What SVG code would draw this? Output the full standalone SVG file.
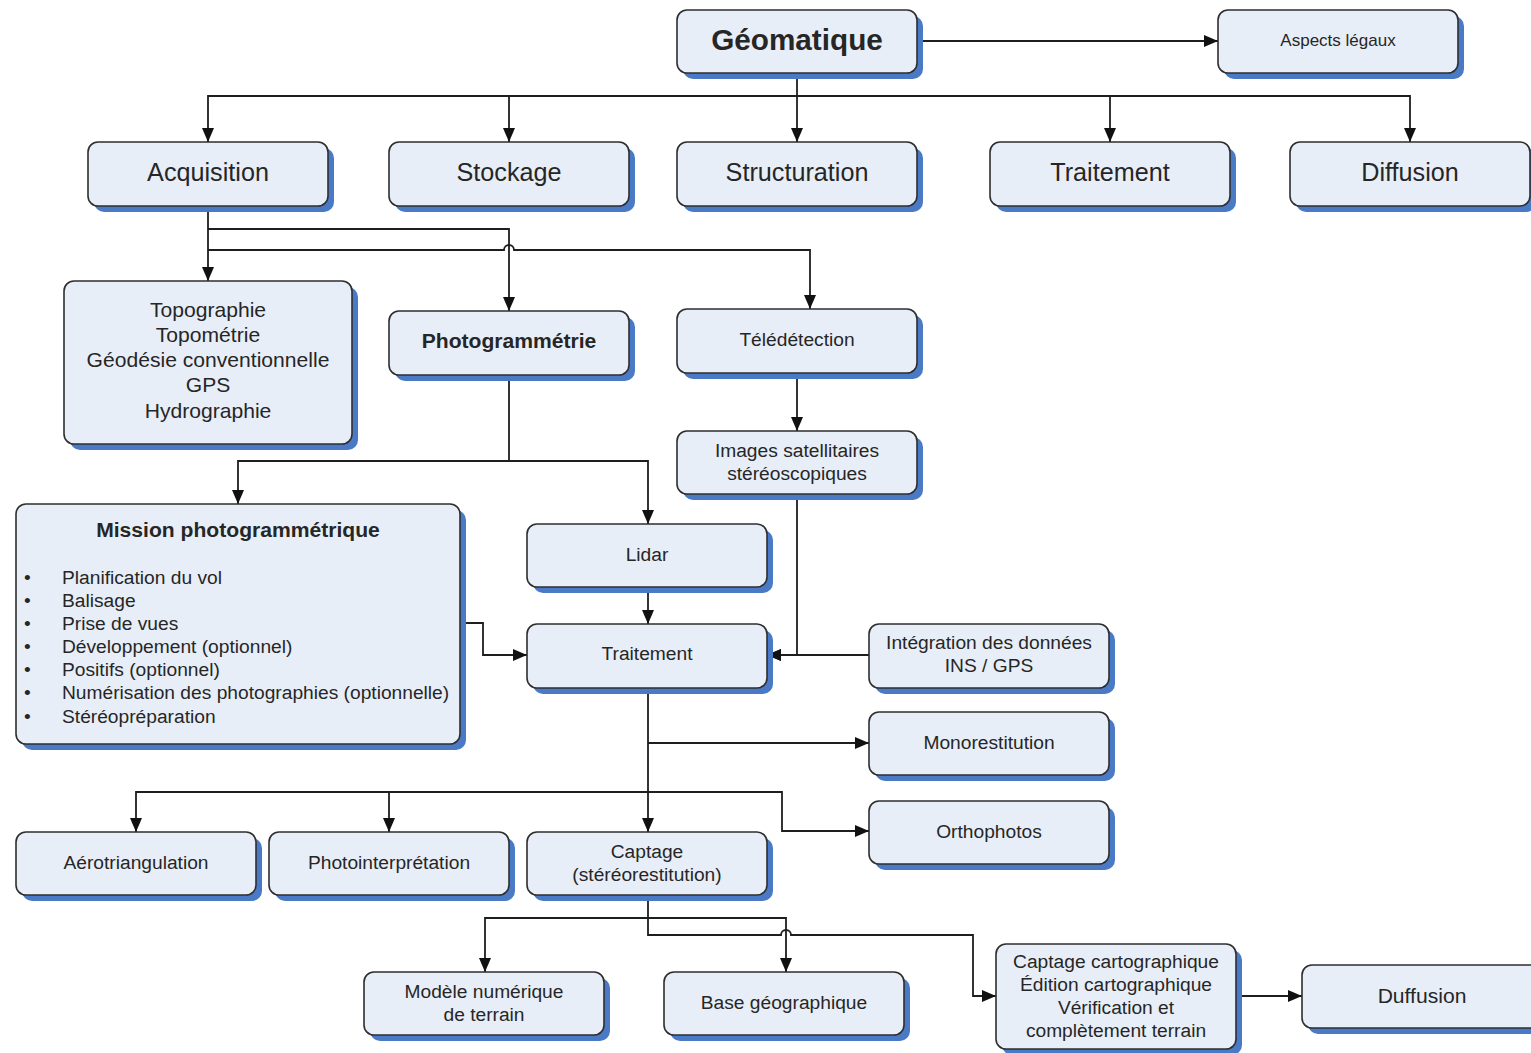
<svg xmlns="http://www.w3.org/2000/svg" width="1531" height="1053" viewBox="0 0 1531 1053">
<style>
.sh{fill:#4a7ac6}
.bx{fill:#e8eef8;stroke:#2e2e2e;stroke-width:1.6}
text{font-family:"Liberation Sans",Arial,sans-serif;fill:#262626;text-anchor:middle}
.t18{font-size:19.2px}
.t19{font-size:21.1px}
.t24{font-size:25.2px}
.b{font-weight:bold}
.l{text-anchor:start}
.c{fill:none;stroke:#1e1e1e;stroke-width:1.8}
.a{marker-end:url(#ar)}
</style>
<defs>
<marker id="ar" markerUnits="userSpaceOnUse" markerWidth="14" markerHeight="14" viewBox="0 0 14 12" refX="14" refY="6" orient="auto">
<path d="M0,0 L14,6 L0,12 z" fill="#111"/>
</marker>
</defs>
<rect width="1531" height="1053" fill="#fff"/>
<g id="connectors">
<path class="c a" d="M917,41 H1218"/>
<path class="c a" d="M797,73 V142"/>
<path class="c a" d="M797,96 H208 V142"/>
<path class="c a" d="M797,96 H1410 V142"/>
<path class="c a" d="M509,96 V142"/>
<path class="c a" d="M1110,96 V142"/>
<path class="c a" d="M208,206 V281"/>
<path class="c a" d="M208,229 H509 V311"/>
<path class="c a" d="M208,250 H504 A5,5 0 0 1 514,250 H810 V309"/>
<path class="c" d="M509,375 V461"/>
<path class="c a" d="M509,461 H238 V504"/>
<path class="c a" d="M509,461 H648 V524"/>
<path class="c a" d="M797,373 V431"/>
<path class="c a" d="M797,494 V655 H767"/>
<path class="c a" d="M869,655 H767"/>
<path class="c a" d="M648,587 V624"/>
<path class="c a" d="M460,623 H483 V655 H527"/>
<path class="c a" d="M648,688 V832"/>
<path class="c a" d="M648,743 H869"/>
<path class="c a" d="M648,792 H136 V832"/>
<path class="c a" d="M389,792 V832"/>
<path class="c a" d="M648,792 H782 V831 H869"/>
<path class="c a" d="M648,895 V935 H781 A5,5 0 0 1 791,935 H973 V996 H996"/>
<path class="c a" d="M648,918 H485 V972"/>
<path class="c a" d="M648,918 H786 V972"/>
<path class="c a" d="M1236,996 H1302"/>
</g>
<g id="geomatique"><rect class="sh" x="683" y="16" width="240" height="63" rx="10"/><rect class="bx" x="677" y="10" width="240" height="63" rx="10"/><text x="797" y="50" font-size="29.7" class="b">Géomatique</text></g>
<g id="aspects"><rect class="sh" x="1224" y="16" width="240" height="63" rx="10"/><rect class="bx" x="1218" y="10" width="240" height="63" rx="10"/><text x="1338" y="46" font-size="17">Aspects légaux</text></g>
<g id="acquisition"><rect class="sh" x="94" y="148" width="240" height="64" rx="10"/><rect class="bx" x="88" y="142" width="240" height="64" rx="10"/><text x="208" y="181" class="t24">Acquisition</text></g>
<g id="stockage"><rect class="sh" x="395" y="148" width="240" height="64" rx="10"/><rect class="bx" x="389" y="142" width="240" height="64" rx="10"/><text x="509" y="181" class="t24">Stockage</text></g>
<g id="structuration"><rect class="sh" x="683" y="148" width="240" height="64" rx="10"/><rect class="bx" x="677" y="142" width="240" height="64" rx="10"/><text x="797" y="181" class="t24">Structuration</text></g>
<g id="traitement-top"><rect class="sh" x="996" y="148" width="240" height="64" rx="10"/><rect class="bx" x="990" y="142" width="240" height="64" rx="10"/><text x="1110" y="181" class="t24">Traitement</text></g>
<g id="diffusion"><rect class="sh" x="1296" y="148" width="240" height="64" rx="10"/><rect class="bx" x="1290" y="142" width="240" height="64" rx="10"/><text x="1410" y="181" class="t24">Diffusion</text></g>
<g id="topographie"><rect class="sh" x="70" y="287" width="288" height="163" rx="10"/><rect class="bx" x="64" y="281" width="288" height="163" rx="10"/>
<text class="t19" x="208" y="317">Topographie</text><text class="t19" x="208" y="342">Topométrie</text><text class="t19" x="208" y="367">Géodésie conventionnelle</text><text class="t19" x="208" y="392">GPS</text><text class="t19" x="208" y="418">Hydrographie</text></g>
<g id="photogrammetrie"><rect class="sh" x="395" y="317" width="240" height="64" rx="10"/><rect class="bx" x="389" y="311" width="240" height="64" rx="10"/><text x="509" y="348" class="t19 b">Photogrammétrie</text></g>
<g id="teledetection"><rect class="sh" x="683" y="315" width="240" height="64" rx="10"/><rect class="bx" x="677" y="309" width="240" height="64" rx="10"/><text x="797" y="346" class="t18">Télédétection</text></g>
<g id="images"><rect class="sh" x="683" y="437" width="240" height="63" rx="10"/><rect class="bx" x="677" y="431" width="240" height="63" rx="10"/><text x="797" y="457" class="t18">Images satellitaires</text><text x="797" y="480" class="t18">stéréoscopiques</text></g>
<g id="mission"><rect class="sh" x="22" y="510" width="444" height="240" rx="10"/><rect class="bx" x="16" y="504" width="444" height="240" rx="10"/>
<text x="238" y="537" class="t19 b">Mission photogrammétrique</text>
<g class="t18">
<text class="l" x="24" y="584">•</text><text class="l" x="62" y="584">Planification du vol</text>
<text class="l" x="24" y="607">•</text><text class="l" x="62" y="607">Balisage</text>
<text class="l" x="24" y="630">•</text><text class="l" x="62" y="630">Prise de vues</text>
<text class="l" x="24" y="653">•</text><text class="l" x="62" y="653">Développement (optionnel)</text>
<text class="l" x="24" y="676">•</text><text class="l" x="62" y="676">Positifs (optionnel)</text>
<text class="l" x="24" y="699">•</text><text class="l" x="62" y="699">Numérisation des photographies (optionnelle)</text>
<text class="l" x="24" y="723">•</text><text class="l" x="62" y="723">Stéréopréparation</text>
</g></g>
<g id="lidar"><rect class="sh" x="533" y="530" width="240" height="63" rx="10"/><rect class="bx" x="527" y="524" width="240" height="63" rx="10"/><text x="647" y="561" class="t18">Lidar</text></g>
<g id="traitement"><rect class="sh" x="533" y="630" width="240" height="64" rx="10"/><rect class="bx" x="527" y="624" width="240" height="64" rx="10"/><text x="647" y="660" class="t18">Traitement</text></g>
<g id="integration"><rect class="sh" x="875" y="630" width="240" height="64" rx="10"/><rect class="bx" x="869" y="624" width="240" height="64" rx="10"/><text x="989" y="649" class="t18">Intégration des données</text><text x="989" y="672" class="t18">INS / GPS</text></g>
<g id="monorestitution"><rect class="sh" x="875" y="718" width="240" height="63" rx="10"/><rect class="bx" x="869" y="712" width="240" height="63" rx="10"/><text x="989" y="749" class="t18">Monorestitution</text></g>
<g id="orthophotos"><rect class="sh" x="875" y="807" width="240" height="63" rx="10"/><rect class="bx" x="869" y="801" width="240" height="63" rx="10"/><text x="989" y="838" class="t18">Orthophotos</text></g>
<g id="aerotriangulation"><rect class="sh" x="22" y="838" width="240" height="63" rx="10"/><rect class="bx" x="16" y="832" width="240" height="63" rx="10"/><text x="136" y="869" class="t18">Aérotriangulation</text></g>
<g id="photointerpretation"><rect class="sh" x="275" y="838" width="240" height="63" rx="10"/><rect class="bx" x="269" y="832" width="240" height="63" rx="10"/><text x="389" y="869" class="t18">Photointerprétation</text></g>
<g id="captage"><rect class="sh" x="533" y="838" width="240" height="63" rx="10"/><rect class="bx" x="527" y="832" width="240" height="63" rx="10"/><text x="647" y="858" class="t18">Captage</text><text x="647" y="881" class="t18">(stéréorestitution)</text></g>
<g id="mnt"><rect class="sh" x="370" y="978" width="240" height="63" rx="10"/><rect class="bx" x="364" y="972" width="240" height="63" rx="10"/><text x="484" y="998" class="t18">Modèle numérique</text><text x="484" y="1021" class="t18">de terrain</text></g>
<g id="base"><rect class="sh" x="670" y="978" width="240" height="63" rx="10"/><rect class="bx" x="664" y="972" width="240" height="63" rx="10"/><text x="784" y="1009" class="t18">Base géographique</text></g>
<g id="captage-carto"><rect class="sh" x="1002" y="950" width="240" height="105" rx="10"/><rect class="bx" x="996" y="944" width="240" height="105" rx="10"/><text x="1116" y="968" class="t18">Captage cartographique</text><text x="1116" y="991" class="t18">Édition cartographique</text><text x="1116" y="1014" class="t18">Vérification et</text><text x="1116" y="1037" class="t18">complètement terrain</text></g>
<g id="duffusion"><rect class="sh" x="1308" y="971" width="240" height="63" rx="10"/><rect class="bx" x="1302" y="965" width="240" height="63" rx="10"/><text x="1422" y="1003" class="t19">Duffusion</text></g>
</svg>
